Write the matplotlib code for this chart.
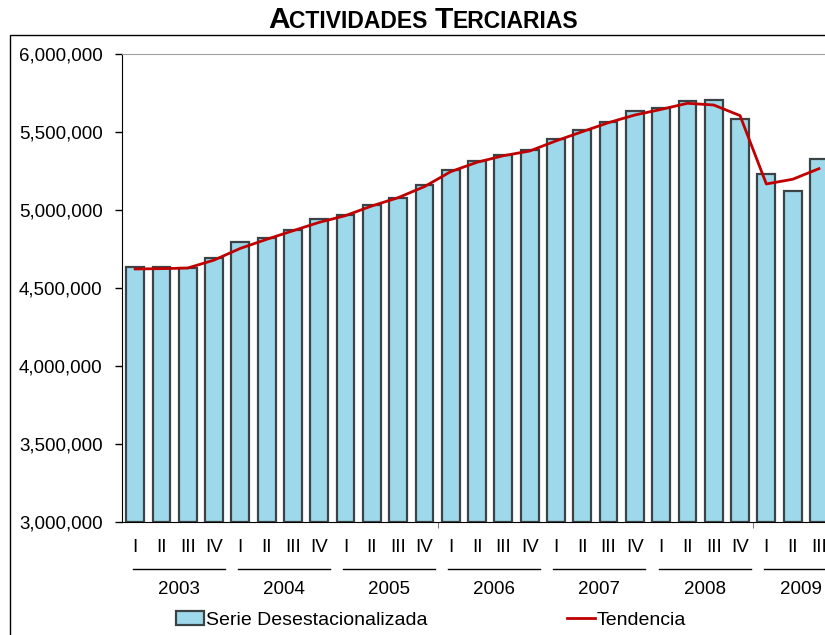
import matplotlib
matplotlib.use("Agg")
import matplotlib.pyplot as plt
from matplotlib.patches import Rectangle, Patch
from matplotlib.lines import Line2D
from matplotlib.ticker import FuncFormatter
import matplotlib.transforms as mtransforms

plt.rcParams['font.family'] = ['Liberation Sans', 'DejaVu Sans']

# data
years = ['2003', '2004', '2005', '2006', '2007', '2008', '2009']
quarters = ['I', 'II', 'III', 'IV']
serie = [4636000, 4636000, 4630000, 4694000, 4793000, 4823000, 4874000,
         4944000, 4970000, 5032000, 5079000, 5160000, 5254000, 5312000,
         5352000, 5384000, 5453000, 5513000, 5562000, 5632000, 5652000,
         5699000, 5703000, 5581000, 5231000, 5124000, 5325000]
tendencia = [4622000, 4624000, 4628000, 4679000, 4754000, 4812000, 4867000,
             4921000, 4964000, 5026000, 5079000, 5150000, 5246000, 5306000,
             5348000, 5378000, 5443000, 5502000, 5560000, 5609000, 5645000,
             5684000, 5673000, 5605000, 5167000, 5197000, 5265000]

W, H = 825, 635
fig = plt.figure(figsize=(W / 100, H / 100), dpi=100)

# plot area: 28 category slots, the last ones run off the right edge
n_slots = 28
slot = 26.3
ax = fig.add_axes([122 / W, 113 / H, n_slots * slot / W, 468 / H])

x = list(range(len(serie)))
ax.bar(x, [v - 3000000 for v in serie], bottom=3000000, width=0.68,
       color='#9DD9EA', edgecolor='#3b4347', linewidth=1.6, zorder=2)
ax.plot(x, tendencia, color='#C00000', lw=2, zorder=3)

ax.set_xlim(-0.5, n_slots - 0.5)
ax.set_ylim(3000000, 6000000)
ax.set_yticks(range(3000000, 6000001, 500000))
ax.yaxis.set_major_formatter(FuncFormatter(lambda v, p: f'{int(v):,}'))
ax.tick_params(axis='y', direction='out', length=5, width=1, pad=9,
               labelsize=13.5, color='black')

ax.set_xticks([11.5, 23.5])
ax.set_xticklabels([])
ax.tick_params(axis='x', direction='out', length=4, color='#808080')

ax.spines['top'].set_color('#A0A0A0')
ax.spines['right'].set_visible(False)
ax.spines['left'].set_color('black')
ax.spines['bottom'].set_color('black')

# category labels under the axis
trans = mtransforms.blended_transform_factory(ax.transData, ax.transAxes)
for i in x:
    ax.text(i, -26 / 468, quarters[i % 4], transform=trans, ha='center',
            va='center', fontsize=13.5, clip_on=False)
for k, yr in enumerate(years):
    x0 = 4 * k - 0.5 + 0.4
    x1 = 4 * k + 3.5 - 0.1
    ax.plot([x0, x1], [-47 / 468, -47 / 468], transform=trans, color='black',
            lw=1, clip_on=False)
    xc = 4 * k + 1.65 if k < len(years) - 1 else 4 * k + 1.3
    ax.text(xc, -68 / 468, yr, transform=trans, ha='center',
            va='center', fontsize=13.5, clip_on=False)

# outer chart frame
fig.patches.append(Rectangle((10 / W, -0.1), 1.2, (H - 35) / H + 0.1,
                             transform=fig.transFigure, fill=False,
                             edgecolor='black', lw=1))

# title in small caps
segments = [('A', 21.5), ('CTIVIDADES ', 16.5), ('T', 21.5), ('ERCIARIAS', 16.5)]
fig.canvas.draw()
renderer = fig.canvas.get_renderer()
widths = []
for s, fs in segments:
    t = fig.text(0, 0, s, fontsize=fs, fontweight='bold')
    widths.append(t.get_window_extent(renderer).width)
    t.remove()
xpos = 423 - sum(widths) / 2
for (s, fs), w in zip(segments, widths):
    fig.text(xpos / W, (H - 28) / H, s, fontsize=fs, fontweight='bold',
             va='baseline', ha='left')
    xpos += w

handles = [Patch(facecolor='#9DD9EA', edgecolor='#3b4347', lw=1.6),
           Line2D([], [], color='#C00000', lw=2)]
fig.legend(handles, ['Serie Desestacionalizada', 'Tendencia'], ncol=2,
           loc='center', bbox_to_anchor=(431 / W, 15 / H), frameon=False,
           fontsize=14, handlelength=1.44, handletextpad=0.08,
           columnspacing=7.2, borderpad=0)

fig.savefig('out.png', dpi=100)
